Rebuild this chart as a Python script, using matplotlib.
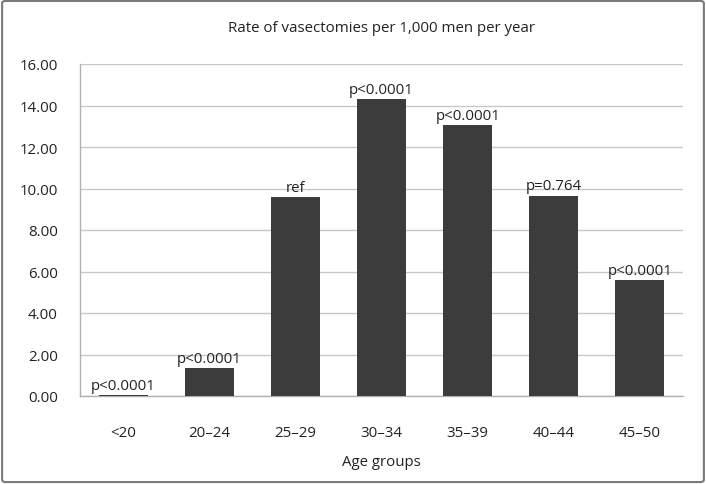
import matplotlib
matplotlib.use("Agg")
import matplotlib.pyplot as plt
from matplotlib.patches import FancyBboxPatch

categories = ["<20", "20\u201324", "25\u201329", "30\u201334", "35\u201339", "40\u201344", "45\u201350"]
rates = [0.05, 1.35, 9.57, 14.31, 13.08, 9.66, 5.58]
pvals = ["p<0.0001", "p<0.0001", "ref", "p<0.0001", "p<0.0001", "p=0.764", "p<0.0001"]
yticks = [0, 2, 4, 6, 8, 10, 12, 14, 16]

plt.rcParams['font.family'] = ['Open Sans', 'DejaVu Sans']
fs = 10.8
fig = plt.figure(figsize=(7.06, 4.85), dpi=100)
ax = fig.add_axes([80/706, 1-397/485, 603/706, 332/485])

x = list(range(len(categories)))
ax.bar(x, rates, width=0.57, color="#3c3c3c", zorder=3)
for xi, r, p in zip(x, rates, pvals):
    ax.text(xi, r + 0.1, p, ha="center", va="bottom", fontsize=fs, color="#222222", zorder=4)

ax.set_xlim(-0.5, len(categories) - 0.5)
ax.set_ylim(0, 16)
ax.set_yticks(yticks)
ax.set_yticklabels([f"{t:.2f}" for t in yticks], fontsize=fs, color="#222222")
ax.set_xticks(x)
ax.set_xticklabels(categories, fontsize=fs, color="#222222")
ax.tick_params(axis="both", length=0)
ax.tick_params(axis="y", pad=16)
ax.tick_params(axis="x", pad=21)
ax.yaxis.grid(True, color="#c8c8c8", linewidth=1.0, zorder=0)
for s in ["top", "right"]:
    ax.spines[s].set_visible(False)
for s in ["left", "bottom"]:
    ax.spines[s].set_color("#b0b0b0")
    ax.spines[s].set_linewidth(1.0)
ax.set_xlabel("Age groups", fontsize=fs, color="#222222", labelpad=10)
ax.set_title("Rate of vasectomies per 1,000 men per year", fontsize=fs, color="#222222", pad=24)

border = FancyBboxPatch((0.003, 0.004), 0.994, 0.992, boxstyle="round,pad=0,rounding_size=0.005",
                        transform=fig.transFigure, fill=False, edgecolor="#7a7a7a", linewidth=1.5)
fig.patches.append(border)

fig.savefig("out.png", dpi=100)
